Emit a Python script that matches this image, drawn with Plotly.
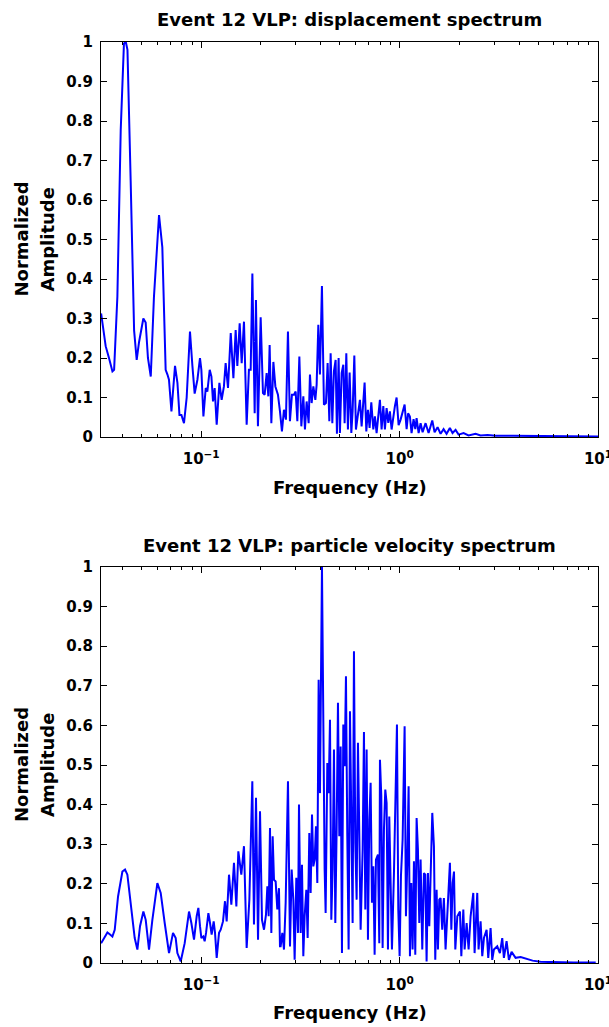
import plotly.graph_objects as go

# ---- Top panel: displacement spectrum (frequency Hz, normalized amplitude) ----
disp_freq = [0.0313, 0.0330, 0.0343, 0.0357, 0.0364, 0.0378, 0.0393, 0.0408, 0.0417, 0.0425,
             0.0441, 0.0459, 0.0473, 0.0486, 0.0511, 0.0525, 0.0539, 0.0557, 0.0578, 0.0613,
             0.0637, 0.0662, 0.0676, 0.0688, 0.0708, 0.0738, 0.0759, 0.0777, 0.0795, 0.0819,
             0.0845, 0.0878, 0.0903, 0.0927, 0.0957, 0.0986, 0.1002, 0.1026, 0.1054, 0.1074,
             0.1104, 0.1126, 0.1147, 0.1169, 0.1197, 0.1235, 0.1268, 0.1302, 0.1328, 0.1365,
             0.1409, 0.1453, 0.1492, 0.1521, 0.1563, 0.1600, 0.1643, 0.1695, 0.1740, 0.1776,
             0.1811, 0.1860, 0.1888, 0.1932, 0.1994, 0.2048, 0.2089, 0.2137, 0.2180, 0.2213,
             0.2257, 0.2311, 0.2365, 0.2437, 0.2495, 0.2553, 0.2613, 0.2674, 0.2737, 0.2801,
             0.2867, 0.2934, 0.2993, 0.3052, 0.3124, 0.3197, 0.3272, 0.3334, 0.3400, 0.3480,
             0.3533, 0.3603, 0.3675, 0.3761, 0.3818, 0.3894, 0.3967, 0.4060, 0.4156, 0.4253,
             0.4338, 0.4424, 0.4492, 0.4581, 0.4667, 0.4760, 0.4832, 0.4928, 0.5003, 0.5103,
             0.5204, 0.5283, 0.5388, 0.5490, 0.5599, 0.5711, 0.5797, 0.5913, 0.6024, 0.6165,
             0.6310, 0.6436, 0.6563, 0.6663, 0.6796, 0.6923, 0.7061, 0.7201, 0.7371, 0.7509,
             0.7658, 0.7811, 0.7957, 0.8116, 0.8277, 0.8432, 0.8600, 0.8771, 0.8936, 0.9114,
             0.9295, 0.9470, 0.9658, 0.9885, 1.0117, 1.035, 1.060, 1.085, 1.104, 1.127,
             1.149, 1.176, 1.200, 1.218, 1.247, 1.276, 1.306, 1.352, 1.400, 1.461,
             1.501, 1.554, 1.609, 1.666, 1.725, 1.792, 1.849, 1.915, 1.983, 2.101,
             2.226, 2.415, 2.559, 2.775, 3.045, 3.752, 5.133, 7.27, 10.0]
disp_amp = [0.313, 0.23, 0.20, 0.166, 0.17, 0.355, 0.777, 0.996, 1.0, 0.98,
            0.65, 0.27, 0.195, 0.24, 0.30, 0.29, 0.20, 0.153, 0.355, 0.562,
            0.48, 0.17, 0.158, 0.145, 0.065, 0.18, 0.137, 0.056, 0.056, 0.035,
            0.10, 0.267, 0.18, 0.11, 0.145, 0.20, 0.17, 0.052, 0.124, 0.115,
            0.17, 0.153, 0.09, 0.124, 0.031, 0.137, 0.094, 0.128, 0.187, 0.124,
            0.263, 0.149, 0.271, 0.18, 0.288, 0.187, 0.292, 0.031, 0.17, 0.17,
            0.414, 0.06, 0.347, 0.027, 0.303, 0.111, 0.107, 0.162, 0.103, 0.233,
            0.035, 0.19, 0.128, 0.107, 0.065, 0.014, 0.069, 0.044, 0.267, 0.040,
            0.107, 0.107, 0.115, 0.040, 0.204, 0.027, 0.103, 0.019, 0.09, 0.035,
            0.158, 0.086, 0.128, 0.094, 0.132, 0.284, 0.158, 0.382, 0.082, 0.086,
            0.187, 0.040, 0.212, 0.035, 0.166, 0.195, 0.008, 0.200, 0.010, 0.162,
            0.183, 0.035, 0.212, 0.019, 0.163, 0.010, 0.065, 0.206, 0.019, 0.056,
            0.094, 0.027, 0.086, 0.138, 0.014, 0.069, 0.023, 0.088, 0.019, 0.052,
            0.010, 0.065, 0.094, 0.019, 0.078, 0.019, 0.073, 0.036, 0.065, 0.019,
            0.052, 0.078, 0.100, 0.030, 0.044, 0.060, 0.082, 0.020, 0.060, 0.052,
            0.010, 0.045, 0.020, 0.048, 0.010, 0.035, 0.012, 0.035, 0.010, 0.042,
            0.012, 0.025, 0.008, 0.020, 0.008, 0.023, 0.010, 0.018, 0.006, 0.010,
            0.004, 0.008, 0.004, 0.005, 0.003, 0.003, 0.002, 0.002, 0.001]

# ---- Bottom panel: particle velocity spectrum ----
vel_freq = [0.0313, 0.03277, 0.03367, 0.03472, 0.03568, 0.03666, 0.03810, 0.04007, 0.04132, 0.04246,
            0.04413, 0.04623, 0.04768, 0.04917, 0.05112, 0.05252, 0.05458, 0.05674, 0.06013, 0.06250,
            0.06547, 0.06884, 0.07211, 0.07438, 0.07584, 0.07883, 0.08257, 0.08682, 0.08921, 0.09200,
            0.09490, 0.09676, 0.09864, 0.1002, 0.1025, 0.1041, 0.1058, 0.1087, 0.1108, 0.1129,
            0.1156, 0.1174, 0.1197, 0.1230, 0.1254, 0.1288, 0.1318, 0.1344, 0.1381, 0.1419,
            0.1463, 0.1504, 0.1539, 0.1593, 0.1643, 0.1695, 0.1749, 0.1810, 0.1845, 0.1889,
            0.1934, 0.1979, 0.2025, 0.2073, 0.2121, 0.2155, 0.2188, 0.2222, 0.2257, 0.2292,
            0.2328, 0.2373, 0.2419, 0.2466, 0.2495,
            0.2515, 0.2564, 0.2614, 0.2665, 0.2738, 0.2803, 0.2857, 0.2913, 0.2958, 0.3016,
            0.3075, 0.3111, 0.3172, 0.3221, 0.3271, 0.3322, 0.3387, 0.3440, 0.3507, 0.3562,
            0.3618, 0.3674, 0.3731, 0.3789, 0.3848, 0.3908, 0.3969, 0.4062, 0.4126, 0.4190,
            0.4239, 0.4322, 0.4389, 0.4458, 0.4527, 0.4597, 0.4669, 0.4742, 0.4816, 0.4891,
            0.4967, 0.5045, 0.5123, 0.5203, 0.5285, 0.5366, 0.5450, 0.5535, 0.5622, 0.5709,
            0.5798, 0.5888, 0.5980, 0.6074, 0.6168, 0.6264, 0.6362, 0.6512, 0.6613, 0.6716,
            0.6821, 0.6927, 0.7035, 0.7145, 0.7257, 0.7369, 0.7484, 0.7601, 0.7779, 0.7900,
            0.7962, 0.8086, 0.8212, 0.8340, 0.8470, 0.8602, 0.8736, 0.8872, 0.9011, 0.9151,
            0.9366, 0.9549, 0.9698, 0.9850, 1.0002, 1.0158, 1.0356, 1.0600, 1.0765, 1.0933,
            1.1103, 1.1276, 1.1453, 1.1630, 1.1812, 1.1996, 1.2183, 1.2373, 1.2566, 1.2761,
            1.3011, 1.3265, 1.3472, 1.3681, 1.3895, 1.4112, 1.4331, 1.4612, 1.4896, 1.5129,
            1.5365, 1.5604, 1.5848,
            1.609, 1.640, 1.672, 1.705, 1.738, 1.793, 1.823, 1.851, 1.880, 1.909,
            1.954, 2.015, 2.047, 2.095, 2.127, 2.177, 2.228, 2.280, 2.352, 2.388,
            2.463, 2.501, 2.560, 2.610, 2.661, 2.745, 2.798, 2.875, 2.931, 2.988,
            3.106, 3.203, 3.291, 3.355, 3.461, 3.556, 3.668, 3.843, 4.074, 4.375,
            4.681, 5.126, 5.993, 7.567, 9.74, 10.0]
vel_amp = [0.050, 0.067, 0.077, 0.072, 0.067, 0.084, 0.168, 0.231, 0.236, 0.223,
           0.152, 0.063, 0.034, 0.093, 0.130, 0.109, 0.034, 0.109, 0.202, 0.177,
           0.101, 0.025, 0.076, 0.063, 0.025, 0.004, 0.050, 0.130, 0.101, 0.059,
           0.118, 0.139, 0.093, 0.063, 0.067, 0.055, 0.076, 0.126, 0.101, 0.072,
           0.105, 0.076, 0.013, 0.076, 0.084, 0.105, 0.156, 0.105, 0.223, 0.147,
           0.253, 0.143, 0.282, 0.223, 0.295, 0.038, 0.160, 0.459, 0.097, 0.417,
           0.059, 0.383, 0.109, 0.084, 0.122, 0.194, 0.118, 0.341, 0.076, 0.320,
           0.210, 0.206, 0.135, 0.189, 0.042,
           0.042, 0.076, 0.034, 0.152, 0.459, 0.042, 0.236, 0.160, 0.008, 0.215,
           0.076, 0.400, 0.076, 0.248, 0.017, 0.118, 0.185, 0.063, 0.328, 0.177,
           0.375, 0.244, 0.261, 0.345, 0.202, 0.715, 0.429, 1.000, 0.505, 0.236,
           0.126, 0.505, 0.429, 0.614, 0.109, 0.236, 0.539, 0.101, 0.337, 0.657,
           0.320, 0.547, 0.025, 0.602, 0.497, 0.724, 0.320, 0.034, 0.636, 0.370,
           0.101, 0.787, 0.303, 0.160, 0.556, 0.328, 0.084, 0.286, 0.583, 0.135,
           0.539, 0.059, 0.362, 0.455, 0.152, 0.244, 0.021, 0.261, 0.274, 0.050,
           0.513, 0.421, 0.038, 0.337, 0.438, 0.404, 0.034, 0.370, 0.185, 0.034,
           0.227, 0.488, 0.602, 0.135, 0.017, 0.219, 0.311, 0.598, 0.118, 0.253,
           0.446, 0.017, 0.202, 0.034, 0.257, 0.021, 0.366, 0.286, 0.101, 0.261,
           0.034, 0.227, 0.223, 0.004, 0.227, 0.093, 0.202, 0.379, 0.295, 0.008,
           0.185, 0.034,
           0.160, 0.164, 0.084, 0.164, 0.034, 0.118, 0.253, 0.084, 0.202, 0.231,
           0.034, 0.118, 0.130, 0.017, 0.135, 0.034, 0.101, 0.034, 0.118, 0.177,
           0.025, 0.177, 0.034, 0.105, 0.017, 0.063, 0.084, 0.013, 0.088, 0.008,
           0.034, 0.042, 0.025, 0.063, 0.013, 0.055, 0.008, 0.028, 0.013, 0.015,
           0.010, 0.006, 0.003, 0.002, 0.001, 0.001]

titles = ["Event 12 VLP: displacement spectrum", "Event 12 VLP: particle velocity spectrum"]
x_label = "Frequency (Hz)"
y_label_lines = ["Normalized", "Amplitude"]
y_ticks = [0, 0.1, 0.2, 0.3, 0.4, 0.5, 0.6, 0.7, 0.8, 0.9, 1]
y_ticktext = ["0", "0.1", "0.2", "0.3", "0.4", "0.5", "0.6", "0.7", "0.8", "0.9", "1"]
x_ticks = [0.1, 1, 10]
x_ticktext = ["10<sup>−1</sup>", "10<sup>0</sup>", "10<sup>1</sup>"]
x_minor = [0.04, 0.05, 0.06, 0.07, 0.08, 0.09, 0.2, 0.3, 0.4, 0.5, 0.6, 0.7, 0.8, 0.9,
           2, 3, 4, 5, 6, 7, 8, 9]

W, H = 609, 1027
FONT = "DejaVu Sans, Verdana, sans-serif"
LINE = "rgb(0,0,255)"

fig = go.Figure()
fig.add_trace(go.Scatter(x=disp_freq, y=disp_amp, mode="lines",
                         line=dict(color=LINE, width=2.0), xaxis="x", yaxis="y", showlegend=False))
fig.add_trace(go.Scatter(x=vel_freq, y=vel_amp, mode="lines",
                         line=dict(color=LINE, width=2.0), xaxis="x2", yaxis="y2", showlegend=False))

left, right = 101, 598
panels = [(42, 437), (567, 963)]


def py(p):
    return (H - p) / H


xd = [left / W, right / W]
axis_common = dict(showline=True, linecolor="black", linewidth=1.3, mirror="allticks",
                   ticks="inside", tickcolor="black", tickwidth=1, showgrid=False, zeroline=False,
                   automargin=False, ticklabeloverflow="allow",
                   tickfont=dict(family=FONT, size=15, color="black", weight="bold"))

for i, (top, bot) in enumerate(panels):
    sfx = "" if i == 0 else str(i + 1)
    fig.update_layout(**{
        "xaxis" + sfx: dict(axis_common, type="log", domain=xd, range=[-1.505, 1.0],
                            anchor="y" + sfx, tickvals=x_ticks, ticktext=x_ticktext, ticklen=6,
                            ticklabelstandoff=8,
                            minor=dict(ticks="inside", tickvals=x_minor, ticklen=3,
                                       tickcolor="black", tickwidth=1)),
        "yaxis" + sfx: dict(axis_common, domain=[py(bot), py(top)], range=[0, 1], anchor="x" + sfx,
                            tickvals=y_ticks, ticktext=y_ticktext, ticklen=6,
                            ticklabelstandoff=4),
    })
    cx = (left + right) / 2 / W
    fig.add_annotation(text="<b>%s</b>" % titles[i], x=cx, y=py(top - 22),
                       xref="paper", yref="paper", showarrow=False,
                       font=dict(family=FONT, size=18, color="black"), yanchor="middle")
    fig.add_annotation(text="<b>%s</b>" % x_label, x=cx, y=py(bot + 50),
                       xref="paper", yref="paper", showarrow=False,
                       font=dict(family=FONT, size=18, color="black"), yanchor="middle")
    for j, (xc, txt) in enumerate(zip([21, 47], y_label_lines)):
        fig.add_annotation(text="<b>%s</b>" % txt, x=xc / W, y=py((top + bot) / 2),
                           xref="paper", yref="paper", showarrow=False, textangle=-90,
                           font=dict(family=FONT, size=18, color="black"),
                           xanchor="center", yanchor="middle")

fig.update_layout(width=W, height=H, margin=dict(l=0, r=0, t=0, b=0, autoexpand=False),
                  plot_bgcolor="white", paper_bgcolor="white")

post = """
(function(){
  var de = document.documentElement, b = document.body;
  [de, b].forEach(function(el){
    el.style.setProperty('margin','0','important');
    el.style.setProperty('padding','0','important');
    el.style.setProperty('overflow','hidden','important');
  });
})();
"""

fig.write_html("out.html", config={"displayModeBar": False}, post_script=post)
